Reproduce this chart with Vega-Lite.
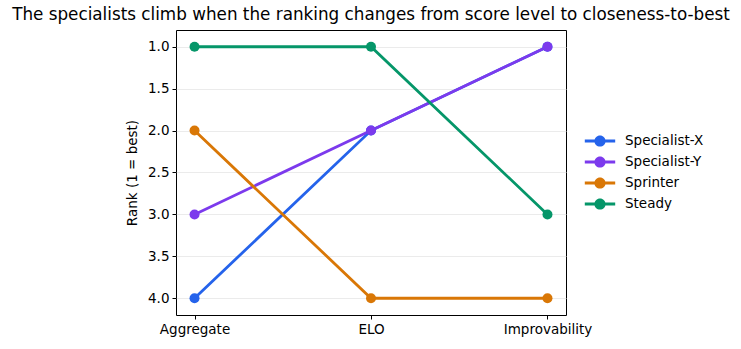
{
  "$schema": "https://vega.github.io/schema/vega-lite/v6.json",
  "width": 390,
  "height": 285,
  "autosize": "none",
  "padding": {"left": 176, "top": 30, "right": 175, "bottom": 34},
  "background": "white",
  "title": {
    "text": "The specialists climb when the ranking changes from score level to closeness-to-best",
    "font": "DejaVu Sans",
    "fontSize": 16.8,
    "fontWeight": "normal",
    "color": "#000000",
    "anchor": "middle",
    "offset": 6
  },
  "config": {
    "font": "DejaVu Sans",
    "view": {"stroke": "#000000", "strokeWidth": 1},
    "axis": {
      "labelFont": "DejaVu Sans",
      "labelFontSize": 13.5,
      "labelColor": "#000000",
      "titleFont": "DejaVu Sans",
      "titleFontSize": 13.5,
      "titleFontWeight": "normal",
      "titleColor": "#000000",
      "tickColor": "#000000",
      "tickSize": 4,
      "domain": false
    }
  },
  "data": {
    "values": [
      {"series": "Specialist-X", "method": "Aggregate", "rank": 4},
      {"series": "Specialist-X", "method": "ELO", "rank": 2},
      {"series": "Specialist-X", "method": "Improvability", "rank": 1},
      {"series": "Specialist-Y", "method": "Aggregate", "rank": 3},
      {"series": "Specialist-Y", "method": "ELO", "rank": 2},
      {"series": "Specialist-Y", "method": "Improvability", "rank": 1},
      {"series": "Sprinter", "method": "Aggregate", "rank": 2},
      {"series": "Sprinter", "method": "ELO", "rank": 4},
      {"series": "Sprinter", "method": "Improvability", "rank": 4},
      {"series": "Steady", "method": "Aggregate", "rank": 1},
      {"series": "Steady", "method": "ELO", "rank": 1},
      {"series": "Steady", "method": "Improvability", "rank": 3}
    ]
  },
  "mark": {
    "type": "line",
    "strokeWidth": 2.8,
    "point": {"filled": true, "size": 100, "opacity": 1}
  },
  "encoding": {
    "x": {
      "field": "method",
      "type": "ordinal",
      "sort": ["Aggregate", "ELO", "Improvability"],
      "scale": {"type": "point", "padding": 0.105},
      "axis": {"title": null, "labelAngle": 0, "grid": false, "labelPadding": 3}
    },
    "y": {
      "field": "rank",
      "type": "quantitative",
      "scale": {"domain": [0.8, 4.2], "reverse": true, "zero": false, "nice": false},
      "axis": {
        "title": "Rank (1 = best)",
        "values": [1, 1.5, 2, 2.5, 3, 3.5, 4],
        "format": ".1f",
        "grid": true,
        "gridColor": "#e6e6e6",
        "gridWidth": 0.8,
        "labelPadding": 3,
        "titlePadding": 8
      }
    },
    "color": {
      "field": "series",
      "type": "nominal",
      "scale": {
        "domain": ["Specialist-X", "Specialist-Y", "Sprinter", "Steady"],
        "range": ["#2563eb", "#7c3aed", "#d97706", "#059669"]
      },
      "legend": {
        "title": null,
        "orient": "none",
        "legendX": 416,
        "legendY": 103,
        "symbolType": "M-1.9,-0.19L1.9,-0.19L1.9,0.19L-1.9,0.19Z M0.7,0A0.7,0.7 0 1,1 -0.7,0A0.7,0.7 0 1,1 0.7,0Z",
        "symbolSize": 256,
        "symbolStrokeWidth": 0,
        "labelFont": "DejaVu Sans",
        "labelFontSize": 13.5,
        "labelColor": "#000000",
        "labelOffset": 17,
        "rowPadding": 6,
        "encode": {
          "symbols": {
            "update": {
              "fill": {"scale": "color", "field": "value"},
              "opacity": {"value": 1}
            }
          }
        }
      }
    }
  }
}
